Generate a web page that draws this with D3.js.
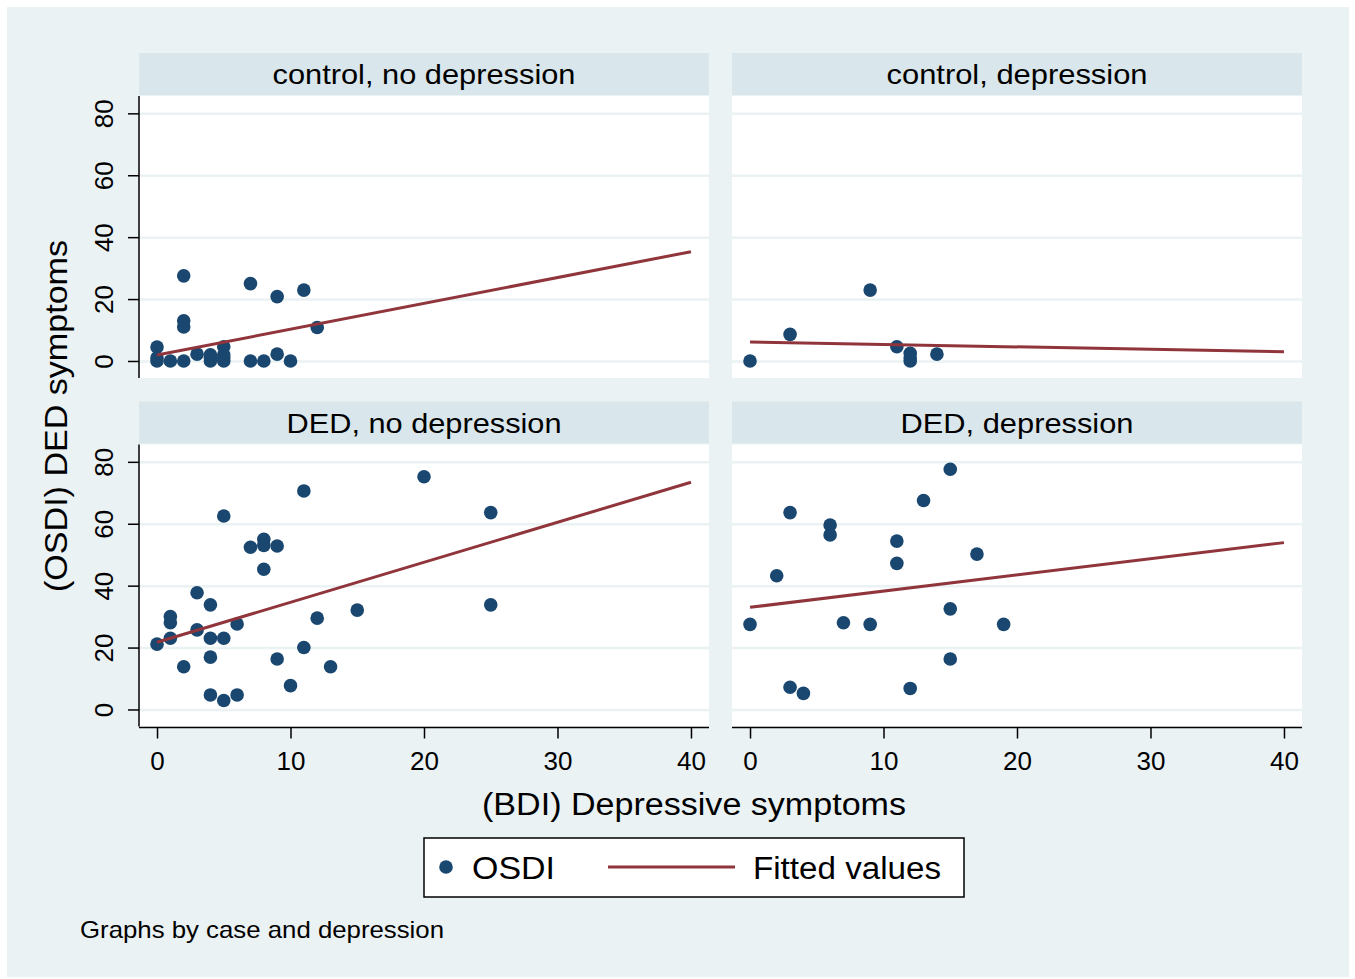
<!DOCTYPE html>
<html><head><meta charset="utf-8">
<script src="https://cdn.jsdelivr.net/npm/d3@7"></script>
<style>
body{margin:0;background:#fff}
svg{display:block}
text{font-family:"Liberation Sans",Arial,Helvetica,sans-serif;fill:#000}
</style>
</head><body>
<svg id="chart" width="1355" height="979"></svg>
<script>
// ---------------- data ----------------
const panelTitles = ["control, no depression", "control, depression", "DED, no depression", "DED, depression"];

const bdiCtrlNoDep  = [0,0,0,1,2,2,2,2,3,4,4,4,5,5,5,5,7,7,8,9,9,10,11,12];
const osdiCtrlNoDep = [0,1,4.5,0,0,27.5,11,13,2.2,0,1,2,0,1,2,4.6,25,0,0,20.8,2.2,0,22.9,10.8];

const bdiCtrlDep  = [0,3,9,11,12,12,12,14];
const osdiCtrlDep = [0,8.6,22.9,4.6,0,1,2.5,2.2];

const bdiDedNoDep  = [0,1,1,1,2,3,3,4,4,4,4,5,5,5,6,6,7,8,8,8,9,9,10,11,11,12,13,15,20,25,25];
const osdiDedNoDep = [21.1,23,28,30,13.8,37.7,25.7,33.8,23,16.9,4.7,62.5,23,2.9,27.6,4.7,52.4,55,53,45.3,52.8,16.3,7.7,70.6,20,29.5,13.8,32.1,75.2,63.6,33.8];

const bdiDedDep  = [0,2,3,3,4,6,6,7,9,11,11,12,13,15,15,15,17,19];
const osdiDedDep = [27.5,43.2,63.6,7.2,5.2,59.6,56.4,28,27.5,54.4,47.2,6.8,67.5,77.6,32.5,16.3,50.2,27.5];

// fitted values read at BDI = fitBdi[0] and fitBdi[1]
const fitBdi        = [0, 40];
const fitCtrlNoDep  = [1.9, 35.3];
const fitCtrlDep    = [6.1, 3.0];
const fitDedNoDep   = [21.7, 73.4];
const fitDedDep     = [33.0, 53.9];

const xTicks = [0, 10, 20, 30, 40];
const yTicks = [0, 20, 40, 60, 80];

const legendLabels = ["OSDI", "Fitted values"];
const xTitle = "(BDI) Depressive symptoms";
const yTitle = "(OSDI) DED symptoms";
const note = "Graphs by case and depression";

// ---------------- styles / layout ----------------
const BG = "#eaf2f3", HEAD = "#d9e6eb", MARK = "#1a476f", LINE = "#90353b";
const headerWidths = [303, 261, 275, 233];
const panels = [
  {title: panelTitles[0], x: bdiCtrlNoDep, y: osdiCtrlNoDep, fit: fitCtrlNoDep, r: 0, c: 0, tw: headerWidths[0]},
  {title: panelTitles[1], x: bdiCtrlDep,   y: osdiCtrlDep,   fit: fitCtrlDep,   r: 0, c: 1, tw: headerWidths[1]},
  {title: panelTitles[2], x: bdiDedNoDep,  y: osdiDedNoDep,  fit: fitDedNoDep,  r: 1, c: 0, tw: headerWidths[2]},
  {title: panelTitles[3], x: bdiDedDep,    y: osdiDedDep,    fit: fitDedDep,    r: 1, c: 1, tw: headerWidths[3]}
];

const PW = 570, PH = 282, X0 = 139, Y0 = 96, DX = 593, DY = 348.5, HH = 42;

const svg = d3.select("#chart");
svg.append("rect").attr("x", 7).attr("y", 7).attr("width", 1342).attr("height", 970).attr("fill", BG);

const x = d3.scaleLinear().domain([-1.35, 41.35]).range([0, PW]);
const y = d3.scaleLinear().domain([-5.5, 85.6]).range([PH, 0]);

panels.forEach(p => {
  const ox = X0 + p.c * DX, oy = Y0 + p.r * DY;
  // header
  svg.append("rect").attr("x", ox).attr("y", oy - HH - 1).attr("width", PW).attr("height", HH).attr("fill", HEAD);
  svg.append("text").attr("x", ox + PW / 2).attr("y", oy - 12).attr("text-anchor", "middle")
    .attr("font-size", 28).attr("textLength", p.tw).attr("lengthAdjust", "spacingAndGlyphs").text(p.title);

  const g = svg.append("g").attr("transform", `translate(${ox},${oy})`);
  g.append("rect").attr("width", PW).attr("height", PH).attr("fill", "#fff");

  // gridlines
  g.append("g").call(d3.axisLeft(y).tickValues(yTicks).tickSize(-PW).tickFormat(""))
    .call(a => a.select(".domain").remove())
    .call(a => a.selectAll("line").attr("stroke", BG).attr("stroke-width", 2.5));

  // y axis on left column
  if (p.c === 0) {
    const ya = g.append("g").call(d3.axisLeft(y).tickValues(yTicks).tickSize(11).tickFormat(d3.format("d")));
    ya.select(".domain").attr("d", `M0,0V${PH}`).attr("stroke", "#000").attr("stroke-width", 1.5);
    ya.selectAll(".tick line").attr("stroke", "#000").attr("stroke-width", 1.5);
    ya.selectAll(".tick text").attr("font-size", 26).attr("fill", "#000")
      .attr("transform", "translate(-26,0) rotate(-90)")
      .attr("x", 0).attr("dy", 0).attr("y", 0)
      .attr("text-anchor", "middle")
      .style("font-family", '"Liberation Sans",Arial,sans-serif');
  }
  // x axis on bottom row
  if (p.r === 1) {
    const xa = g.append("g").attr("transform", `translate(0,${PH + 1})`)
      .call(d3.axisBottom(x).tickValues(xTicks).tickSize(11).tickFormat(d3.format("d")));
    xa.select(".domain").attr("d", `M0,0H${PW}`).attr("stroke", "#000").attr("stroke-width", 1.5);
    xa.selectAll(".tick line").attr("stroke", "#000").attr("stroke-width", 1.5);
    xa.selectAll(".tick text").attr("font-size", 26).attr("fill", "#000").attr("y", 42).attr("dy", 0)
      .style("font-family", '"Liberation Sans",Arial,sans-serif');
  }

  // points
  g.selectAll("circle.pt").data(p.x.map((v, i) => [v, p.y[i]])).join("circle")
    .attr("class", "pt").attr("cx", d => x(d[0])).attr("cy", d => y(d[1])).attr("r", 6.8).attr("fill", MARK);

  // fitted line
  g.append("path").datum(fitBdi.map((v, i) => [v, p.fit[i]]))
    .attr("d", d3.line().x(d => x(d[0])).y(d => y(d[1])))
    .attr("fill", "none").attr("stroke", LINE).attr("stroke-width", 3);
});

// axis titles
svg.append("text").attr("x", 694).attr("y", 815).attr("text-anchor", "middle").attr("font-size", 31)
  .attr("textLength", 424).attr("lengthAdjust", "spacingAndGlyphs").text(xTitle);
svg.append("text").attr("transform", "translate(67,416) rotate(-90)").attr("text-anchor", "middle").attr("font-size", 31)
  .attr("textLength", 352).attr("lengthAdjust", "spacingAndGlyphs").text(yTitle);

// legend
const lg = svg.append("g");
lg.append("rect").attr("x", 424).attr("y", 838).attr("width", 540).attr("height", 59)
  .attr("fill", "#fff").attr("stroke", "#000").attr("stroke-width", 1.5);
lg.append("circle").attr("cx", 446).attr("cy", 867).attr("r", 6.8).attr("fill", MARK);
lg.append("text").attr("x", 472).attr("y", 879).attr("font-size", 31)
  .attr("textLength", 83).attr("lengthAdjust", "spacingAndGlyphs").text(legendLabels[0]);
lg.append("line").attr("x1", 608).attr("x2", 735).attr("y1", 867).attr("y2", 867).attr("stroke", LINE).attr("stroke-width", 3);
lg.append("text").attr("x", 753).attr("y", 879).attr("font-size", 31)
  .attr("textLength", 188).attr("lengthAdjust", "spacingAndGlyphs").text(legendLabels[1]);

// note
svg.append("text").attr("x", 80).attr("y", 938).attr("font-size", 24)
  .attr("textLength", 364).attr("lengthAdjust", "spacingAndGlyphs").text(note);
</script>
</body></html>
